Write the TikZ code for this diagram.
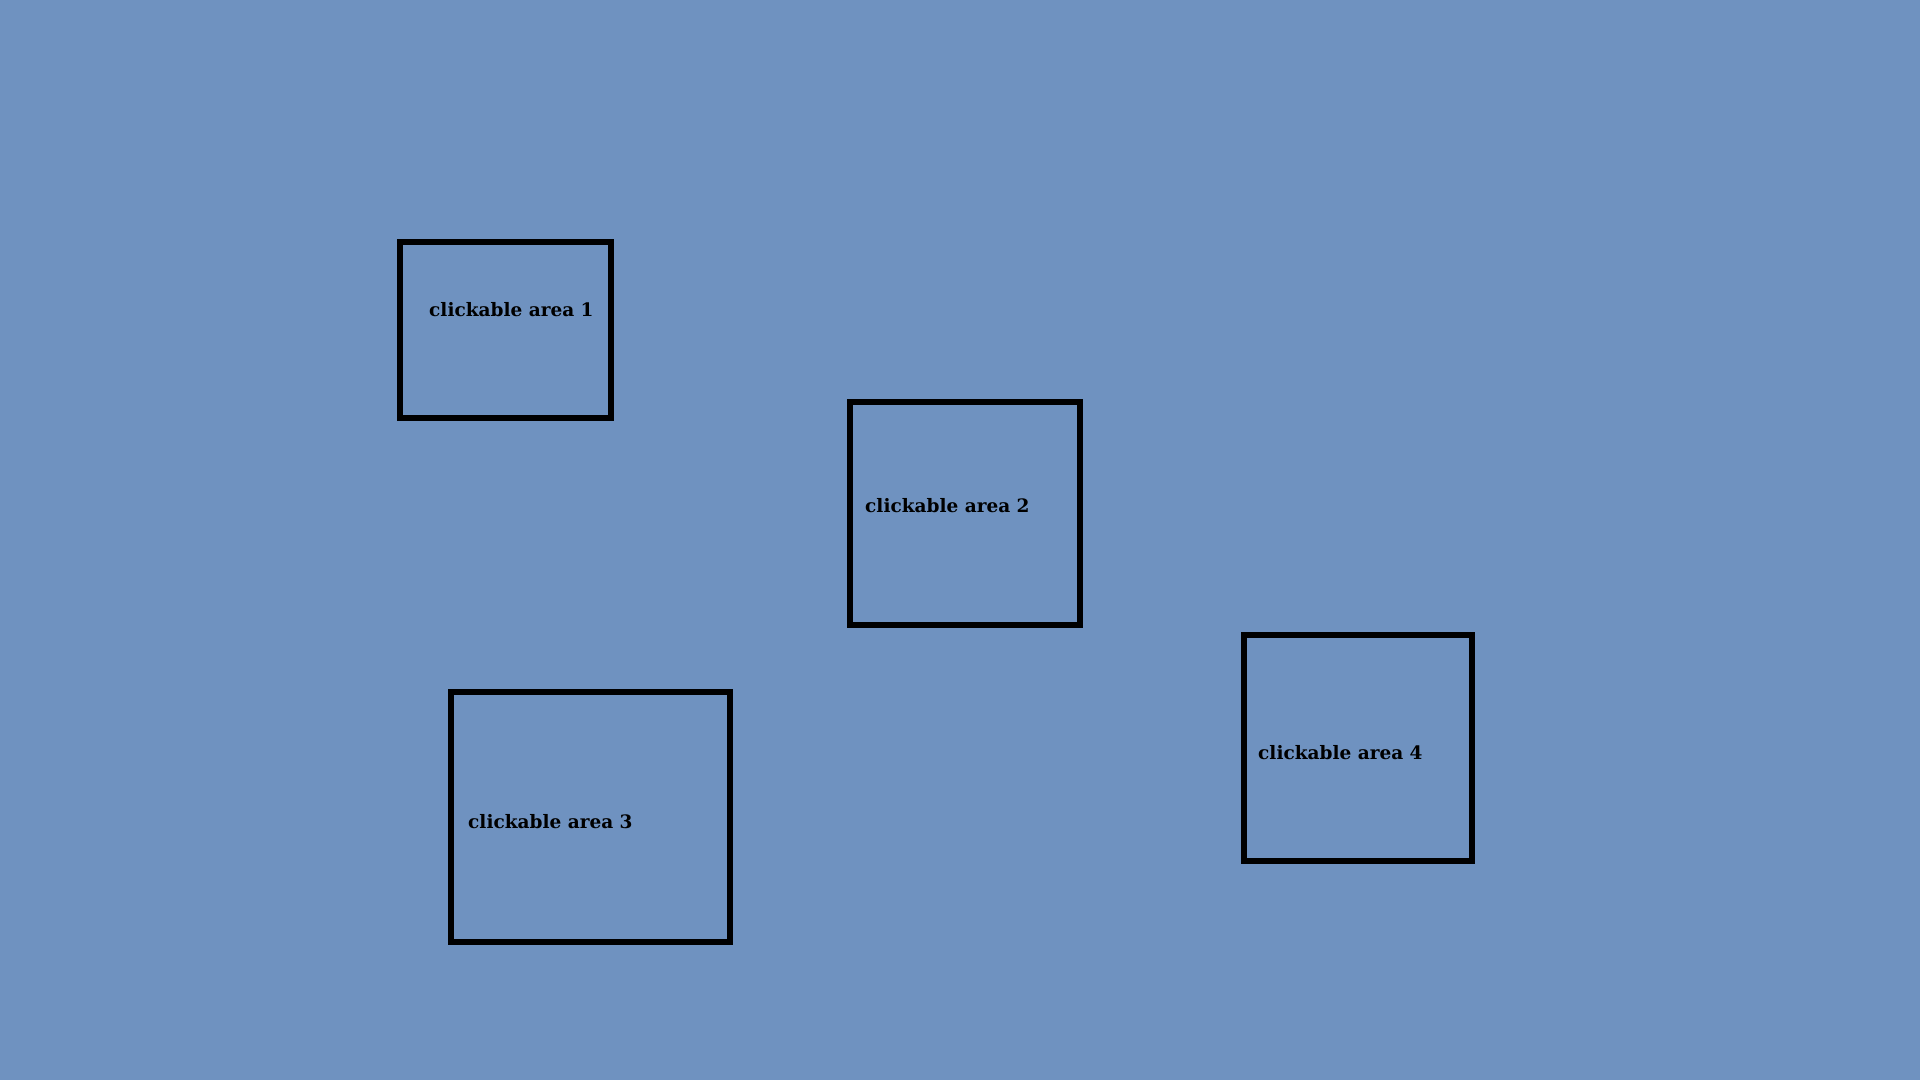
\documentclass[tikz,border=0pt]{standalone}
\usepackage{fontspec}
\setmainfont{DejaVu Serif}
\usepackage{xcolor}
\definecolor{PageBlue}{RGB}{111,146,192}
\tikzstyle{clickBox}=[draw=black,line width=6.5pt,inner sep=0pt]
\tikzstyle{areaLabel}=[anchor=base west,inner sep=0pt,font=\fontsize{18.5}{22}\selectfont\bfseries]

\begin{document}
\begin{tikzpicture}[x=1pt,y=-1pt]
    % Background
    \fill[PageBlue] (0,0) rectangle (1920,1080);
    \useasboundingbox (0,0) rectangle (1920,1080);

    % Clickable areas
	\node[clickBox,minimum width=211pt,minimum height=176pt] (area1) at (505.5,330) {};
	\node[clickBox,minimum width=230pt,minimum height=223pt] (area2) at (965,513.5) {};
	\node[clickBox,minimum width=279pt,minimum height=250pt] (area3) at (590.5,817) {};
	\node[clickBox,minimum width=228pt,minimum height=226pt] (area4) at (1358,748) {};

    % Labels
	\node[areaLabel] (label1) at (429,316) {clickable area 1};
	\node[areaLabel] (label2) at (865,512) {clickable area 2};
	\node[areaLabel] (label3) at (468,828) {clickable area 3};
	\node[areaLabel] (label4) at (1258,759) {clickable area 4};

\end{tikzpicture}
\end{document}
